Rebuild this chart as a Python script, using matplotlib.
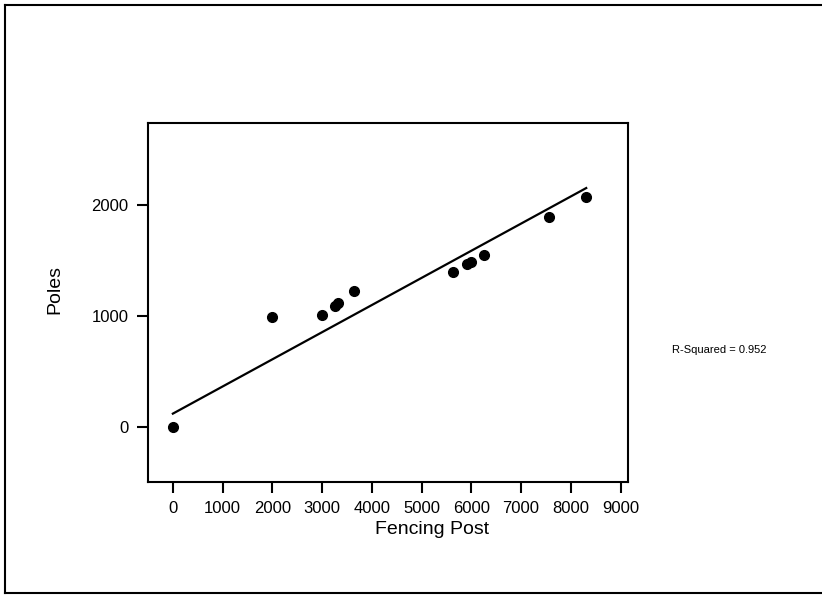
import numpy as np
import matplotlib
matplotlib.use("Agg")
import matplotlib.pyplot as plt
from matplotlib.lines import Line2D

plt.rcParams['font.family'] = ['Liberation Sans', 'DejaVu Sans']

# data
fence_post = [0, 2000, 3000, 3250, 3320, 3650, 5630, 5910, 6000, 6250, 7570, 8310]
poles = [0, 990, 1010, 1085, 1115, 1220, 1395, 1470, 1490, 1545, 1890, 2070]
r_squared = 0.952
# fit line as drawn in the original
fit_intercept = 117
fit_slope = 0.245

x_ticks = list(range(0, 9001, 1000))
y_ticks = [0, 1000, 2000]

fig = plt.figure(figsize=(8.22, 5.96), dpi=100)
ax = fig.add_axes([148/822, 1 - 482/596, (628-148)/822, (482-123)/596])

xs = np.array(fence_post)
ys = np.array(poles)
line_x = np.array([xs.min(), xs.max()])
ax.plot(line_x, fit_slope*line_x + fit_intercept, color='black', lw=1.6)
ax.plot(xs, ys, 'o', color='black', markersize=7)

ax.set_xlim(-500, 9150)
ax.set_ylim(-500, 2740)
ax.set_xticks(x_ticks)
ax.set_yticks(y_ticks)
ax.tick_params(direction='out', length=8, width=1.5, labelsize=12, pad=6)
for s in ax.spines.values():
    s.set_linewidth(1.5)

ax.set_xlabel("Fencing Post", fontsize=14)
ax.set_ylabel("Poles", fontsize=14)
ax.xaxis.set_label_coords((432-148)/480, -(521-482)/359)
ax.yaxis.set_label_coords(-(148-63)/480, (482-289)/359)

fig.text(672/822, 1 - 350/596, "R-Squared = %.3f" % r_squared, fontsize=8, va='center')

# outer frame (right side cut off in the original)
fig.add_artist(Line2D([5/822, 5/822], [3/596, 1 - 5/596], color='black', lw=1.5, transform=fig.transFigure))
fig.add_artist(Line2D([5/822, 1], [1 - 5/596, 1 - 5/596], color='black', lw=1.5, transform=fig.transFigure))
fig.add_artist(Line2D([5/822, 1], [3/596, 3/596], color='black', lw=1.5, transform=fig.transFigure))

fig.savefig("out.png", dpi=100)
